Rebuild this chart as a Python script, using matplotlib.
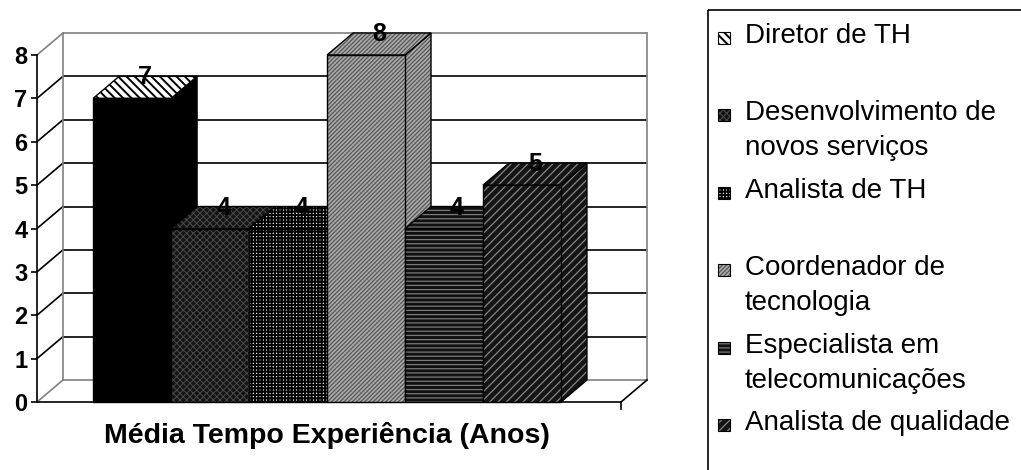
import matplotlib
matplotlib.use('Agg')
import matplotlib.pyplot as plt
from matplotlib.patches import Polygon, Rectangle

plt.rcParams['font.family'] = ['Liberation Sans', 'DejaVu Sans']

# ---------------- data ----------------
categories = ['Diretor de TH', 'Desenvolvimento de\nnovos serviços', 'Analista de TH',
              'Coordenador de\ntecnologia', 'Especialista em\ntelecomunicações',
              'Analista de qualidade']
values = [7, 4, 4, 8, 4, 5]
y_ticks = [0, 1, 2, 3, 4, 5, 6, 7, 8]
x_title = 'Média Tempo Experiência (Anos)'

# ---------------- styles ----------------
# (facecolor, hatchcolor, hatch, hatch linewidth)
S_DIR_TOP = ('white', 'black', '\\\\\\\\', 1.4)
S_DIR = ('black', 'black', None, 0.8)
S_DES = ('#141414', '#4a4a4a', 'xxxxx', 0.7)
S_ATH = ('white', 'black', '+++++', 1.5)
S_COO = ('#ababab', '#555555', '////////', 0.9)
S_ESP = ('#101010', '#7a7a7a', '----', 0.9)
S_QUA = ('#141414', '#858585', '////', 0.9)
face_styles = [
    dict(front=S_DIR, top=S_DIR_TOP, side=S_DIR, legend=S_DIR_TOP),
    dict(front=S_DES, top=S_DES, side=S_DES, legend=S_DES),
    dict(front=S_ATH, top=S_ATH, side=S_ATH, legend=S_ATH),
    dict(front=S_COO, top=S_COO, side=S_COO, legend=S_COO),
    dict(front=S_ESP, top=S_ESP, side=S_ESP, legend=S_ESP),
    dict(front=S_QUA, top=S_QUA, side=S_QUA, legend=S_QUA),
]

W, H = 1021, 470
fig = plt.figure(figsize=(W / 100, H / 100), dpi=100)

# axes: front y axis at px 37, back-right wall at px 647, floor front at 402, wall top at 33
ax = fig.add_axes([37 / W, (H - 402) / H, (647 - 37) / W, (402 - 33) / H])

bar_w = 1.0
left_margin = 0.72
right_margin = 0.77
n = len(values)
floor_len = left_margin + n * bar_w + right_margin
ddx = 0.333                       # depth offset in category units
ymax = max(y_ticks)
unit_px = (402 - 55) / ymax
ddy = 22 / unit_px                # depth offset in value units
ax.set_xlim(0, floor_len + ddx)
ax.set_ylim(0, ymax + ddy)

grid_c = 'black'
edge_c = '#808080'
lw = 1.2

# back wall + left wall gridlines
for v in y_ticks:
    c = edge_c if v in (y_ticks[0], y_ticks[-1]) else grid_c
    ax.plot([ddx, floor_len + ddx], [v + ddy, v + ddy], color=c, lw=lw, zorder=1,
            solid_capstyle='butt', clip_on=False)
    ax.plot([0, ddx], [v, v + ddy], color=c, lw=lw, zorder=1, clip_on=False)
ax.plot([ddx, ddx], [ddy, ymax + ddy], color=edge_c, lw=lw, zorder=1, clip_on=False)
ax.plot([floor_len + ddx, floor_len + ddx], [ddy, ymax + ddy], color=edge_c, lw=lw,
        zorder=1, clip_on=False)
# floor
ax.plot([0, floor_len], [0, 0], color='black', lw=lw, zorder=1, clip_on=False)
ax.plot([floor_len, floor_len + ddx], [0, ddy], color='black', lw=lw, zorder=1, clip_on=False)
ax.plot([floor_len, floor_len], [0, -0.16], color='black', lw=lw, zorder=1, clip_on=False)


def make_patch(target, cls, args, style, z=None, **kw):
    fc, hc, hatch, hlw = style
    with plt.rc_context({'hatch.linewidth': hlw}):
        p = cls(*args, facecolor=fc, edgecolor=hc, hatch=hatch, lw=0, **kw)
    if z is not None:
        p.set_zorder(z)
    target.add_patch(p)


def face(pts, style, z):
    make_patch(ax, Polygon, (pts,), style, z=z, closed=True, clip_on=False)
    ax.add_patch(Polygon(pts, closed=True, fill=False, edgecolor='black', lw=1.0,
                         zorder=z + 0.01, clip_on=False))


for i, (v, st) in enumerate(zip(values, face_styles)):
    x0 = left_margin + i * bar_w
    x1 = x0 + bar_w
    z = 3 + i * 0.1
    side = [(x1, 0), (x1 + ddx, ddy), (x1 + ddx, v + ddy), (x1, v)]
    top = [(x0, v), (x1, v), (x1 + ddx, v + ddy), (x0 + ddx, v + ddy)]
    front = [(x0, 0), (x1, 0), (x1, v), (x0, v)]
    face(side, st['side'], z)
    face(top, st['top'], z + 0.02)
    face(front, st['front'], z + 0.04)
    ax.text(x0 + bar_w / 2 + ddx / 2, v + ddy * 0.95, str(v), ha='center', va='center',
            fontsize=18, fontweight='bold', zorder=10)

# y axis
for s in ['top', 'right', 'bottom']:
    ax.spines[s].set_visible(False)
ax.spines['left'].set_bounds(0, ymax)
ax.spines['left'].set_linewidth(lw)
ax.spines['left'].set_zorder(2)
ax.set_yticks(y_ticks)
ax.set_yticklabels([str(t) for t in y_ticks], fontsize=17, fontweight='bold')
ax.tick_params(axis='y', length=4, width=lw, pad=3)
ax.set_xticks([])
ax.patch.set_visible(False)

# x title
fig.text(327 / W, 1 - 443 / H, x_title, ha='center', va='baseline', fontsize=20.5,
         fontweight='bold')

# ---------------- legend (manual, Excel style) ----------------
lax = fig.add_axes([0, 0, 1, 1])
lax.set_xlim(0, W)
lax.set_ylim(H, 0)
lax.axis('off')
lax.add_patch(Rectangle((708, 10), 400, 500, fill=False, edgecolor='black', lw=1.2))
slot = 77.4
line_step = 35
for i, (lab, st) in enumerate(zip(categories, face_styles)):
    base = 43 + i * slot
    make_patch(lax, Rectangle, ((718, base - 11), 12, 12), st['legend'])
    lax.add_patch(Rectangle((718, base - 11), 12, 12, fill=False, edgecolor='black', lw=0.8))
    for j, line in enumerate(lab.split('\n')):
        lax.text(745, base + j * line_step, line, ha='left', va='baseline', fontsize=20)

fig.savefig('out.png', dpi=100)
